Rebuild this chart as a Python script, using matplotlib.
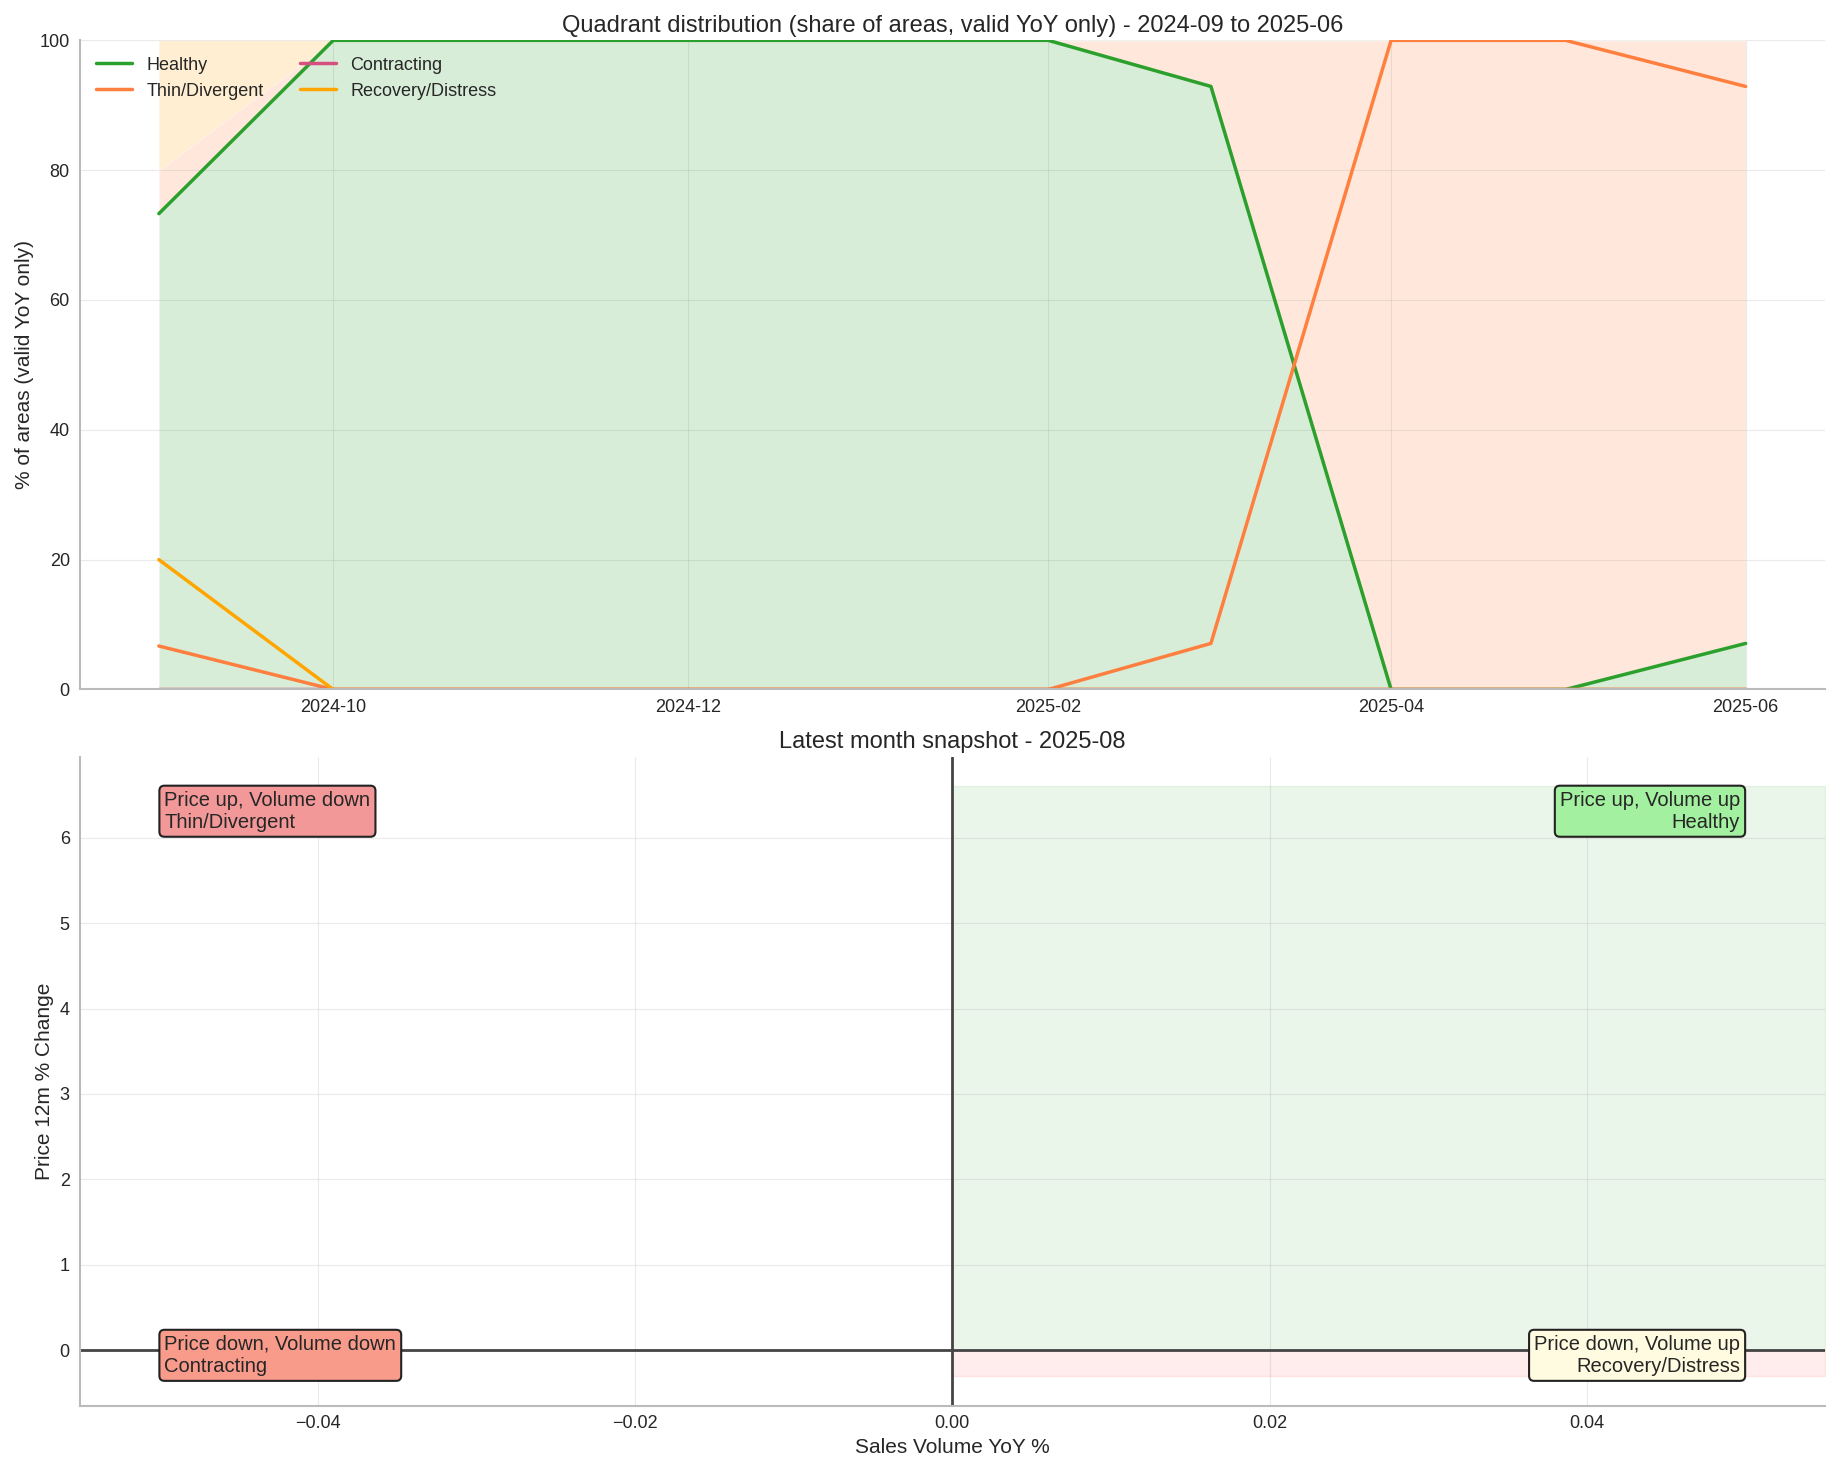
import matplotlib
matplotlib.use("Agg")
import matplotlib.pyplot as plt
import pandas as pd
import seaborn as sns

sns.set_style("whitegrid")
plt.rcParams['font.family'] = ['Liberation Sans', 'DejaVu Sans']

months = pd.date_range("2024-09-01", "2025-06-01", freq="MS")
healthy = [73.3, 100, 100, 100, 100, 100, 92.9, 0, 0, 7.1]
thin = [6.7, 0, 0, 0, 0, 0, 7.1, 100, 100, 92.9]
contracting = [0, 0, 0, 0, 0, 0, 0, 0, 0, 0]
recovery = [20, 0, 0, 0, 0, 0, 0, 0, 0, 0]

series = [
    ('Healthy', healthy, '#2ca02c'),
    ('Thin/Divergent', thin, '#ff7f3f'),
    ('Contracting', contracting, '#d6507f'),
    ('Recovery/Distress', recovery, '#ffa500'),
]

quadrant_labels = [
    ("Price up, Volume up\nHealthy", 'right', 'top', '#a3f0a0'),
    ("Price up, Volume down\nThin/Divergent", 'left', 'top', '#f29898'),
    ("Price down, Volume down\nContracting", 'left', 'bottom', '#f99b8b'),
    ("Price down, Volume up\nRecovery/Distress", 'right', 'bottom', '#fffbe0'),
]

fig, (ax1, ax2) = plt.subplots(2, 1, figsize=(18.4, 14.72), dpi=100)

# Top: stacked shares plus lines
ax1.stackplot(months, healthy, thin, contracting, recovery,
              colors=[s[2] for s in series], alpha=0.18)
for name, vals, color in series:
    ax1.plot(months, vals, color=color, linewidth=2.5, label=name)
ax1.set_ylim(0, 100)
ax1.set_ylabel('% of areas (valid YoY only)', fontsize=15)
ax1.set_title('Quadrant distribution (share of areas, valid YoY only) - 2024-09 to 2025-06', fontsize=17)
ax1.legend(loc='upper left', ncol=2, fontsize=13, frameon=False)
ax1.xaxis.set_major_locator(matplotlib.dates.MonthLocator(bymonth=[2, 4, 6, 8, 10, 12]))
ax1.xaxis.set_major_formatter(matplotlib.dates.DateFormatter('%Y-%m'))
ax1.tick_params(labelsize=13)
ax1.grid(True, alpha=0.4)

# Bottom: latest snapshot quadrant
ax2.fill_between([0, 0.055], 0, 6.6, color='#2ca02c', alpha=0.09)
ax2.fill_between([0, 0.055], -0.3, 0, color='#ff3030', alpha=0.09)
ax2.axhline(0, color='#444444', linewidth=2)
ax2.axvline(0, color='#444444', linewidth=2)
ax2.set_xlim(-0.055, 0.055)
ax2.set_ylim(-0.65, 6.95)
for text, ha, va, fc in quadrant_labels:
    x = 0.04965 if ha == 'right' else -0.04965
    y = 6.55 if va == 'top' else -0.3
    ax2.text(x, y, text, ha=ha, va=va, fontsize=14.5, multialignment=ha,
             bbox=dict(boxstyle='round,pad=0.25', facecolor=fc, edgecolor='#222222', linewidth=1.5))
ax2.set_xlabel('Sales Volume YoY %', fontsize=15)
ax2.set_ylabel('Price 12m % Change', fontsize=15)
ax2.set_title('Latest month snapshot - 2025-08', fontsize=17)
ax2.tick_params(labelsize=13)
ax2.grid(True, alpha=0.4)

for ax in (ax1, ax2):
    for side in ('top', 'right'):
        ax.spines[side].set_visible(False)
    for side in ('left', 'bottom'):
        ax.spines[side].set_color('#bbbbbb')
        ax.spines[side].set_linewidth(1.5)

plt.tight_layout()
plt.savefig('out.png', dpi=100)
